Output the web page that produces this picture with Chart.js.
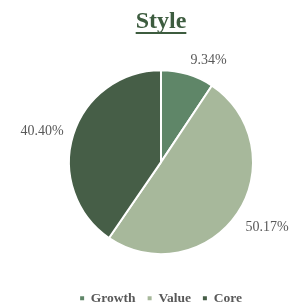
<!DOCTYPE html>
<html>
<head>
<meta charset="utf-8">
<script src="https://cdn.jsdelivr.net/npm/chart.js@4/dist/chart.umd.min.js"></script>
<style>
html,body{margin:0;padding:0;background:#fff;}
#wrap{width:290px;height:305px;}
</style>
</head>
<body>
<div id="wrap"><canvas id="c" width="290" height="305"></canvas></div>
<script>
const titleText = 'Style';
const categories = ['Growth', 'Value', 'Core'];
const values = [9.34, 50.17, 40.40];
const labelsText = ['9.34%', '50.17%', '40.40%'];
const colors = ['#5f8668', '#a7b89b', '#465e47'];

const SERIF = '"Liberation Serif", "Times New Roman", serif';

const underlinePlugin = {
  id: 'underline',
  afterDraw(chart) {
    const t = chart.titleBlock;
    if (!t) return;
    const ctx = chart.ctx;
    ctx.save();
    ctx.font = 'bold 24px ' + SERIF;
    const w = ctx.measureText(titleText).width;
    const cx = (t.left + t.right) / 2;
    ctx.fillStyle = '#3d5c3f';
    ctx.fillRect(cx - w / 2, 32, w, 2);
    ctx.restore();
  }
};

const outLabels = {
  id: 'outLabels',
  afterDatasetsDraw(chart) {
    const ctx = chart.ctx;
    const meta = chart.getDatasetMeta(0);
    ctx.save();
    ctx.font = '14px ' + SERIF;
    ctx.fillStyle = '#595959';
    ctx.textAlign = 'center';
    ctx.textBaseline = 'middle';
    meta.data.forEach((arc, i) => {
      const p = arc.getProps(['x', 'y', 'startAngle', 'endAngle', 'outerRadius'], true);
      const mid = (p.startAngle + p.endAngle) / 2;
      const cos = Math.cos(mid), sin = Math.sin(mid);
      const r = p.outerRadius + 10;
      const w = ctx.measureText(labelsText[i]).width;
      const h = 13;
      const ky = Math.max(-1, Math.min(1, sin * 1.5));
      const x = p.x + r * cos + (w / 2) * Math.sign(cos);
      const y = p.y + r * sin + (h / 2) * ky + 2.5;
      ctx.fillText(labelsText[i], x, y);
    });
    ctx.restore();
  }
};

const baseGen = Chart.overrides.pie.plugins.legend.labels.generateLabels;

new Chart(document.getElementById('c'), {
  type: 'pie',
  data: {
    labels: categories,
    datasets: [{
      data: values,
      backgroundColor: colors,
      borderColor: '#ffffff',
      borderWidth: 2
    }]
  },
  options: {
    responsive: false,
    animation: false,
    layout: { padding: { left: 68, right: 36, top: 0, bottom: -10 } },
    plugins: {
      title: {
        display: true,
        text: titleText,
        color: '#3d5c3f',
        font: { family: SERIF, size: 24, weight: 'bold' },
        padding: { top: 7, bottom: 9 }
      },
      legend: {
        display: true,
        position: 'bottom',
        labels: {
          boxWidth: 4,
          boxHeight: 4,
          padding: 12,
          color: '#595959',
          font: { family: SERIF, size: 13.5, weight: 'bold' },
          generateLabels(chart) {
            return baseGen(chart).map(item => Object.assign(item, { lineWidth: 0, strokeStyle: item.fillStyle }));
          }
        }
      },
      tooltip: { enabled: false }
    }
  },
  plugins: [underlinePlugin, outLabels]
});
</script>
</body>
</html>
